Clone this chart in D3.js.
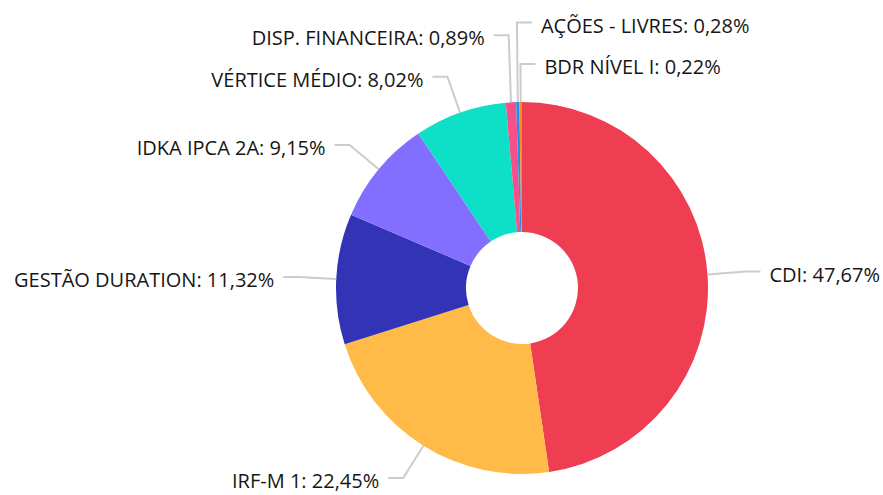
<!DOCTYPE html>
<html>
<head>
<meta charset="utf-8">
<script src="https://cdn.jsdelivr.net/npm/d3@7"></script>
<style>
  body { margin: 0; background: #fff; }
  text { font-family: "Open Sans", "Noto Sans", sans-serif; }
</style>
</head>
<body>
<div id="chart"></div>
<script>
const categories = ["CDI", "IRF-M 1", "GESTÃO DURATION", "IDKA IPCA 2A", "VÉRTICE MÉDIO",
    "DISP. FINANCEIRA", "AÇÕES - LIVRES", "BDR NÍVEL I"];
const shares = [47.67, 22.45, 11.32, 9.15, 8.02, 0.89, 0.28, 0.22];
const colors = ["#ef3d52", "#ffba47", "#3333b6", "#836fff", "#0de0c7", "#f4508c", "#1e90f0", "#ff8a1c"];

const width = 883, height = 495;
const cx = 522, cy = 288;
const outerR = 186, innerR = 56;
const labelR = 224;
const spacing = 41.5;

const svg = d3.select("#chart")
    .append("svg")
    .attr("width", width)
    .attr("height", height)
    .append("g")
    .attr("transform", `translate(${cx},${cy})`);

const data = categories.map((c, i) => ({ name: c, value: shares[i], color: colors[i] }));

const pie = d3.pie().value(d => d.value).sort(null);
const arcs = pie(data);

const arc = d3.arc().innerRadius(innerR).outerRadius(outerR);

svg.selectAll("path.slice")
    .data(arcs)
    .join("path")
    .attr("class", "slice")
    .attr("fill", d => d.data.color)
    .attr("d", arc);

// label anchor points; tiny slices right before 12 o'clock are labelled on the right
const fmt = v => v.toFixed(2).replace(".", ",") + "%";
const labels = arcs.map(d => {
    const a = (d.startAngle + d.endAngle) / 2;
    const key = a > Math.PI ? a - 2 * Math.PI : a;
    return {
        d: d,
        key: key,
        right: key >= -0.03 && key < Math.PI,
        ax: Math.sin(a) * outerR,
        ay: -Math.cos(a) * outerR,
        ex: Math.sin(a) * labelR,
        ey: -Math.cos(a) * labelR
    };
});

// push crowded labels upward, keeping angular order top to bottom
const rightSide = labels.filter(l => l.right).sort((a, b) => a.key - b.key);
const leftSide = labels.filter(l => !l.right).sort((a, b) => b.key - a.key);
[rightSide, leftSide].forEach(group => {
    for (let i = group.length - 2; i >= 0; i--) {
        group[i].ey = Math.min(group[i].ey, group[i + 1].ey - spacing);
    }
});

const conn = svg.append("g");
labels.forEach(l => {
    const dir = l.right ? 1 : -1;
    conn.append("path")
        .attr("fill", "none")
        .attr("stroke", "#cccccc")
        .attr("stroke-width", 2)
        .attr("d", d3.line()([[l.ax, l.ay], [l.ex, l.ey], [l.ex + dir * 15, l.ey]]));
    conn.append("text")
        .attr("x", l.ex + dir * 24)
        .attr("y", l.ey)
        .attr("dy", "0.5em")
        .attr("text-anchor", l.right ? "start" : "end")
        .attr("font-size", 20)
        .attr("fill", "#161616")
        .text(`${l.d.data.name}: ${fmt(l.d.data.value)}`);
});
</script>
</body>
</html>
